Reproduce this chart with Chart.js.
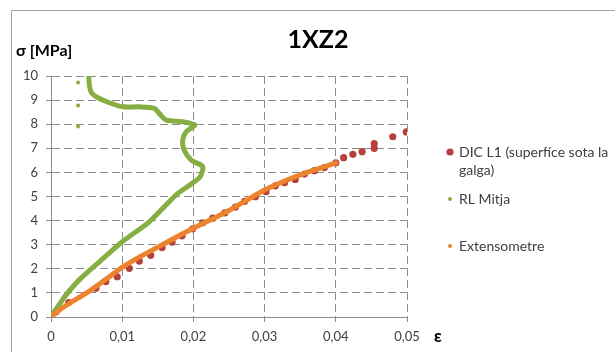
<!DOCTYPE html>
<html>
<head>
<meta charset="utf-8">
<script src="https://cdn.jsdelivr.net/npm/chart.js"></script>
<style>
  html, body { margin: 0; padding: 0; background: #fff; }
  #wrap { width: 615px; height: 352px; }
</style>
</head>
<body>
<div id="wrap"><canvas id="ChartCanvas" width="615" height="352"></canvas></div>
<script>
// Values
const chartTitle = '1XZ2';
const yAxisTitle = 'σ [MPa]';
const xAxisTitle = 'ε';
const seriesNames = ['DIC L1 (superfíce sota la galga)', 'RL Mitja', 'Extensometre'];

const xTickLabels = ['0', '0,01', '0,02', '0,03', '0,04', '0,05'];
const yTickLabels = ['0', '1', '2', '3', '4', '5', '6', '7', '8', '9', '10'];

const dicX = [0, 0.0007, 0.0025, 0.0063, 0.0077, 0.0093, 0.011, 0.0124, 0.014, 0.0156, 0.017, 0.0184,
              0.0199, 0.0213, 0.0227, 0.0244, 0.0259, 0.0272, 0.0287, 0.0302, 0.0315, 0.0328, 0.0343,
              0.0356, 0.037, 0.0384, 0.04, 0.0411, 0.0424, 0.0437, 0.0454, 0.0454, 0.048, 0.0499];
const dicY = [0, 0.22, 0.6, 1.19, 1.47, 1.67, 2.02, 2.32, 2.56, 2.88, 3.11, 3.37,
              3.66, 3.91, 4.1, 4.32, 4.56, 4.8, 4.99, 5.2, 5.44, 5.57, 5.71,
              5.93, 6.07, 6.2, 6.4, 6.61, 6.75, 6.86, 7.0, 7.2, 7.48, 7.68];

const rlX = [0, 0.001, 0.0021, 0.004, 0.0068, 0.01, 0.0138, 0.0175, 0.0196, 0.0209, 0.0213,
             0.0197, 0.0187, 0.0185, 0.019, 0.0202, 0.0185, 0.0162, 0.0152, 0.0145, 0.0124,
             0.0101, 0.0085, 0.0066, 0.0057, 0.0054, 0.0053];
const rlY = [0, 0.45, 0.91, 1.55, 2.29, 3.12, 3.95, 5.05, 5.5, 5.8, 6.24,
             6.51, 6.93, 7.34, 7.69, 7.97, 8.1, 8.17, 8.45, 8.66, 8.72,
             8.72, 8.86, 9.1, 9.3, 9.6, 9.98];
const rlDotsX = [0.0038, 0.0038, 0.0038];
const rlDotsY = [9.73, 8.78, 7.9];

const extX = [0, 0.001, 0.0025, 0.005, 0.0075, 0.01, 0.0125, 0.015, 0.0175, 0.02, 0.0225,
              0.025, 0.0275, 0.03, 0.0325, 0.035, 0.0375, 0.04];
const extY = [0, 0.25, 0.55, 1.0, 1.52, 2.06, 2.5, 2.9, 3.3, 3.68, 4.05,
              4.42, 4.85, 5.27, 5.6, 5.9, 6.15, 6.4];

const colorDic = '#b5413c';
const colorRl = '#86ae42';
const colorExt = '#ec832e';
const gridColor = '#8c8c8c';
const textColor = '#404040';

Initialize();

function Initialize()
{
    Chart.defaults.font.family = 'Lato';
    Chart.defaults.color = textColor;

    const ctx = document.getElementById('ChartCanvas').getContext('2d');

    new Chart(ctx,
    {
        type: 'scatter',
        data:
        {
            datasets:
            [
                {
                    label: seriesNames[2],
                    data: ToPoints(extX, extY),
                    showLine: true,
                    borderColor: colorExt,
                    backgroundColor: colorExt,
                    borderWidth: 5,
                    borderCapStyle: 'round',
                    borderJoinStyle: 'round',
                    tension: 0.3,
                    pointRadius: 0,
                    order: 0
                },
                {
                    label: seriesNames[1],
                    data: ToPoints(rlX, rlY),
                    showLine: true,
                    borderColor: colorRl,
                    backgroundColor: colorRl,
                    borderWidth: 5,
                    borderCapStyle: 'round',
                    borderJoinStyle: 'round',
                    tension: 0.25,
                    pointRadius: 0,
                    order: 1
                },
                {
                    label: seriesNames[1],
                    data: ToPoints(rlDotsX, rlDotsY),
                    backgroundColor: colorRl,
                    borderWidth: 0,
                    pointRadius: 2,
                    order: 1
                },
                {
                    label: seriesNames[0],
                    data: ToPoints(dicX, dicY),
                    backgroundColor: colorDic,
                    borderWidth: 0,
                    pointRadius: 3.6,
                    order: 2
                }
            ]
        },
        options:
        {
            responsive: false,
            animation: false,
            devicePixelRatio: 1,
            layout: { padding: { left: 11, right: 208, top: 76, bottom: 0 } },
            plugins:
            {
                legend: { display: false },
                tooltip: { enabled: false },
                title: { display: false }
            },
            scales:
            {
                x:
                {
                    type: 'linear',
                    min: 0,
                    max: 0.05,
                    ticks:
                    {
                        stepSize: 0.01,
                        padding: 7,
                        font: { size: 13 },
                        color: textColor,
                        maxRotation: 0,
                        callback: (value, index) => xTickLabels[index]
                    },
                    grid: { color: gridColor, lineWidth: 1, tickLength: 5, tickColor: gridColor },
                    border: { display: true, color: gridColor, width: 1, dash: [8, 4] },
                    afterFit: (axis) => { axis.height = 35; }
                },
                y:
                {
                    type: 'linear',
                    min: 0,
                    max: 10,
                    ticks:
                    {
                        stepSize: 1,
                        padding: 8,
                        font: { size: 13 },
                        color: textColor,
                        callback: (value, index) => yTickLabels[index]
                    },
                    grid: { color: gridColor, lineWidth: 1, tickLength: 5, tickColor: gridColor },
                    border: { display: true, color: gridColor, width: 1, dash: [8, 4] },
                    afterFit: (axis) => { axis.width = 40; }
                }
            }
        },
        plugins: [DecorPlugin()]
    });
}

function ToPoints(xs, ys)
{
    return xs.map((x, i) => ({ x: x, y: ys[i] }));
}

function WrapText(ctx, text, maxWidth)
{
    const words = text.split(' ');
    const lines = [];
    let line = '';
    for (const w of words)
    {
        const test = line ? line + ' ' + w : w;
        if (ctx.measureText(test).width > maxWidth && line)
        {
            lines.push(line);
            line = w;
        }
        else
        {
            line = test;
        }
    }
    lines.push(line);
    return lines;
}

function DecorPlugin()
{
    return {
        id: 'decor',
        afterDraw(chart)
        {
            const ctx = chart.ctx;
            ctx.save();

            // outer frame
            ctx.strokeStyle = '#a6a6a6';
            ctx.lineWidth = 1;
            ctx.strokeRect(11.5, 10.5, 620, 360);

            ctx.fillStyle = '#000';
            ctx.textBaseline = 'middle';

            // chart title
            ctx.font = 'bold 25px Lato';
            ctx.textAlign = 'center';
            ctx.fillText(chartTitle, 318, 40);

            // axis titles
            ctx.font = 'bold 16px Lato';
            ctx.textAlign = 'left';
            ctx.fillText(yAxisTitle, 16, 51);
            ctx.font = 'bold 17px Lato';
            ctx.fillText(xAxisTitle, 434, 337);

            // legend
            const markers = [
                { color: colorDic, r: 3.6, y: 152 },
                { color: colorRl, r: 2, y: 199 },
                { color: colorExt, r: 2, y: 246 }
            ];
            ctx.font = '14px Lato';
            seriesNames.forEach((name, i) =>
            {
                const m = markers[i];
                ctx.beginPath();
                ctx.fillStyle = m.color;
                ctx.arc(450, m.y, m.r, 0, Math.PI * 2);
                ctx.fill();
                ctx.fillStyle = textColor;
                const lines = WrapText(ctx, name, 153);
                lines.forEach((ln, j) => ctx.fillText(ln, 459, m.y + j * 18));
            });

            ctx.restore();
        }
    };
}
</script>
</body>
</html>
